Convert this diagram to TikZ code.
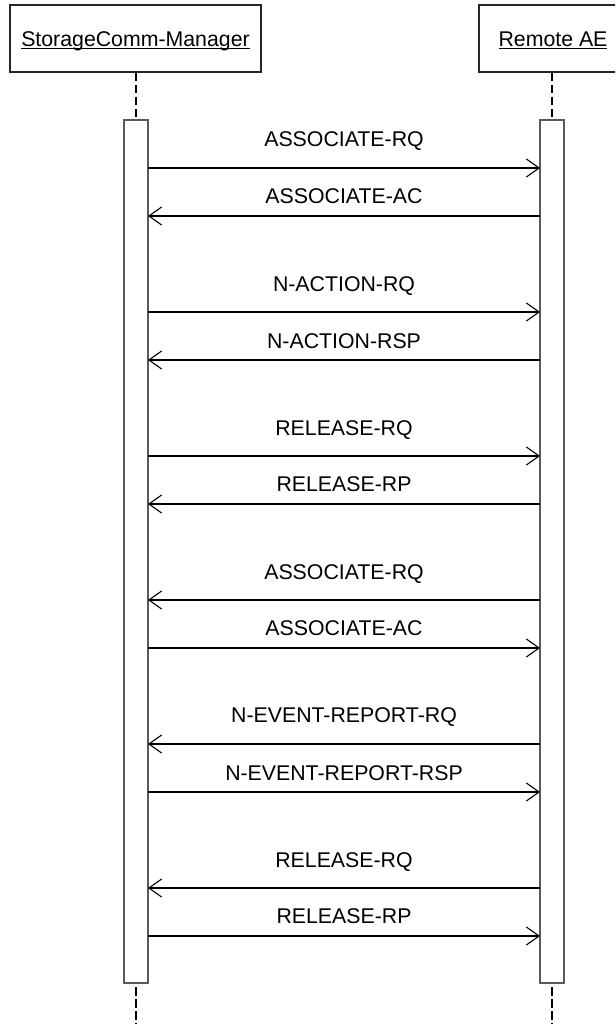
\documentclass[tikz,border=0pt]{standalone}
\usepackage{fontspec}
\setmainfont{Liberation Sans}
\usetikzlibrary{arrows.meta}
\newcommand\myul[1]{\setbox0\hbox{#1}\rlap{\rule[-2.8pt]{\wd0}{1.3pt}}\box0}
\tikzset{
  objbox/.style={draw=black!85, line width=1.3pt, fill=white, inner sep=0pt,
    text height=16pt, text depth=0pt,
    font=\fontsize{21.3}{25}\selectfont},
  actbar/.style={draw=black!65, line width=1.3pt, fill=white, inner sep=0pt,
    minimum width=24pt, minimum height=863pt},
  lifeline/.style={line width=2.5pt, dash pattern=on 8.5pt off 3.5pt, black},
  msg/.style={line width=1.2pt, black, -{Straight Barb[length=12.7pt,width=18pt,line width=1.1pt]}},
  lbl/.style={anchor=base, inner sep=0pt, font=\fontsize{21.3}{25}\selectfont}
}
\begin{document}
\begin{tikzpicture}[x=1pt,y=-1pt]
\useasboundingbox (0,0) rectangle (615,1024);
\clip (0,0) rectangle (615,1024);
\fill[white] (0,0) rectangle (615,1024);
% objects
\node[objbox, minimum width=251pt, minimum height=67pt] (mgr) at (135.5,38.5) {\myul{StorageComm-Manager}};
\node[objbox, minimum width=148pt, minimum height=67pt] (rae) at (553,38.5) {\myul{Remote AE}};
% activation bars
\node[actbar] (barL) at (136,551.5) {};
\node[actbar] (barR) at (552,551.5) {};
\coordinate (endL) at (136,1024);
\coordinate (endR) at (552,1024);
% lifelines
\draw[lifeline] (mgr.south -| barL.north) -- (barL.north);
\draw[lifeline] (rae.south -| barR.north) -- (barR.north);
\draw[lifeline] ([yshift=-3.5pt]barL.south) -- (endL);
\draw[lifeline] ([yshift=-3.5pt]barR.south) -- (endR);
% message end points
\foreach \i/\y in {1/168,2/216,3/312,4/360,5/456,6/504,7/600,8/648,9/744,10/792,11/888,12/936}{
  \coordinate (L\i) at (148,\y);
  \coordinate (R\i) at (540,\y);
}
% messages
\draw[msg] (L1) -- (R1);
\draw[msg] (R2) -- (L2);
\draw[msg] (L3) -- (R3);
\draw[msg] (R4) -- (L4);
\draw[msg] (L5) -- (R5);
\draw[msg] (R6) -- (L6);
\draw[msg] (R7) -- (L7);
\draw[msg] (L8) -- (R8);
\draw[msg] (R9) -- (L9);
\draw[msg] (L10) -- (R10);
\draw[msg] (R11) -- (L11);
\draw[msg] (L12) -- (R12);
% labels
\node[lbl] (t1) at (344,147) {ASSOCIATE-RQ};
\node[lbl] (t2) at (344,203.5) {ASSOCIATE-AC};
\node[lbl] (t3) at (344,291.5) {N-ACTION-RQ};
\node[lbl] (t4) at (344,348) {N-ACTION-RSP};
\node[lbl] (t5) at (344,435) {RELEASE-RQ};
\node[lbl] (t6) at (344,491.5) {RELEASE-RP};
\node[lbl] (t7) at (344,579) {ASSOCIATE-RQ};
\node[lbl] (t8) at (344,635.5) {ASSOCIATE-AC};
\node[lbl] (t9) at (344,722.5) {N-EVENT-REPORT-RQ};
\node[lbl] (t10) at (344,780) {N-EVENT-REPORT-RSP};
\node[lbl] (t11) at (344,867) {RELEASE-RQ};
\node[lbl] (t12) at (344,923.5) {RELEASE-RP};
\end{tikzpicture}
\end{document}
